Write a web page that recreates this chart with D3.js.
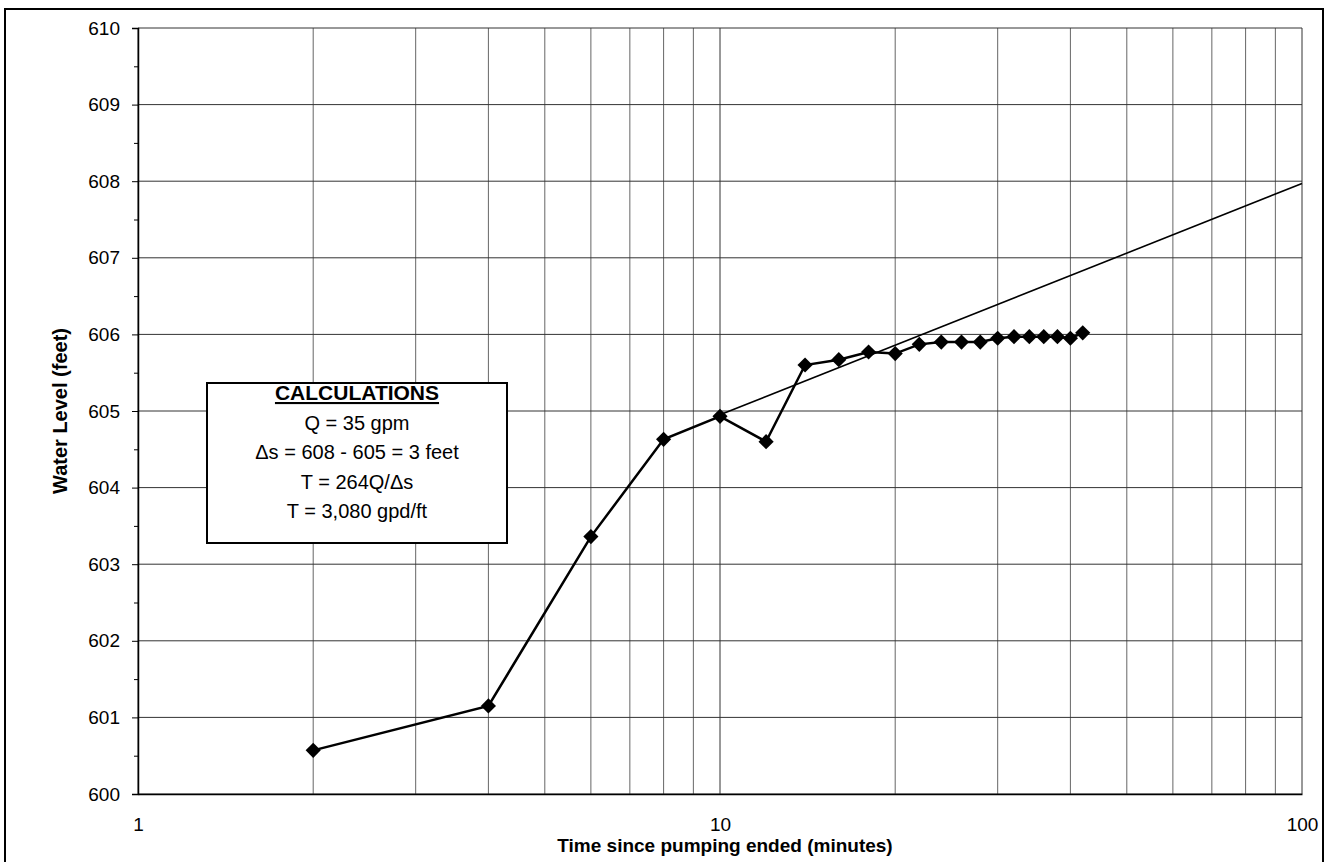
<!DOCTYPE html>
<html>
<head>
<meta charset="utf-8">
<script src="https://cdn.jsdelivr.net/npm/d3@7"></script>
<style>
   body { margin: 0; background: #fff; }
   text { font-family: Arial, "Liberation Sans", sans-serif; fill: #000; }
</style>
</head>
<body>
<script>
// recovery test data
let times = [2, 4, 6, 8, 10, 12, 14, 16, 18, 20, 22, 24, 26, 28, 30, 32, 34, 36, 38, 40, 42];
let levels = [600.57, 601.15, 603.36, 604.63, 604.93, 604.60, 605.60, 605.67, 605.77, 605.75, 605.87,
              605.90, 605.90, 605.90, 605.95, 605.97, 605.97, 605.97, 605.97, 605.95, 606.02];
// straight line fitted through the late data
let trendTimes = [10, 100];
let trendLevels = [604.95, 607.97];
// axes
let xTicks = [1, 10, 100];
let xGrid = [1, 2, 3, 4, 5, 6, 7, 8, 9, 10, 20, 30, 40, 50, 60, 70, 80, 90, 100];
let yTicks = [600, 601, 602, 603, 604, 605, 606, 607, 608, 609, 610];
let yMinorTicks = [600.5, 601.5, 602.5, 603.5, 604.5, 605.5, 606.5, 607.5, 608.5, 609.5];
let calcTitle = 'CALCULATIONS';
let calcLines = ['Q = 35 gpm', '\u0394s = 608 - 605  = 3 feet', 'T = 264Q/\u0394s', 'T = 3,080 gpd/ft'];

let width = 1331;
let height = 862;
let plotLeft = 138, plotRight = 1302, plotTop = 28, plotBottom = 794;

let svg = d3.select('body').append('svg')
   .attr('width', width)
   .attr('height', height);

let xScale = d3.scaleLog().domain([1, 100]).range([plotLeft, plotRight]);
let yScale = d3.scaleLinear().domain([600, 610]).range([plotBottom, plotTop]);

// outer chart border
svg.append('rect')
   .attr('x', 5).attr('y', 9)
   .attr('width', 1318).attr('height', 870)
   .attr('fill', 'none')
   .attr('stroke', '#000')
   .attr('stroke-width', 2);

// gridlines (scan looks a bit washed out, so greys)
svg.append('g').selectAll('line')
   .data(xGrid)
   .enter()
   .append('line')
   .attr('x1', (d) => xScale(d)).attr('x2', (d) => xScale(d))
   .attr('y1', plotTop).attr('y2', plotBottom)
   .attr('stroke', (d) => xTicks.includes(d) ? '#333' : '#666')
   .attr('stroke-width', 1);

svg.append('g').selectAll('line')
   .data(yTicks)
   .enter()
   .append('line')
   .attr('x1', plotLeft).attr('x2', plotRight)
   .attr('y1', (d) => yScale(d)).attr('y2', (d) => yScale(d))
   .attr('stroke', '#333')
   .attr('stroke-width', 1);

// axes
let yAxis = d3.axisLeft(yScale)
   .tickValues(yTicks)
   .tickFormat(d3.format('d'))
   .tickSize(6)
   .tickPadding(12);
let gy = svg.append('g')
   .attr('transform', 'translate(' + plotLeft + ',0)')
   .call(yAxis);
gy.selectAll('text').style('font-size', '19px');

let yMinor = d3.axisLeft(yScale).tickValues(yMinorTicks).tickSize(4).tickFormat('');
svg.append('g')
   .attr('transform', 'translate(' + plotLeft + ',0)')
   .call(yMinor)
   .select('.domain').remove();

let xAxis = d3.axisBottom(xScale)
   .tickValues(xTicks)
   .tickFormat(d3.format('d'))
   .tickSize(0)
   .tickPadding(24);
let gx = svg.append('g')
   .attr('transform', 'translate(0,' + plotBottom + ')')
   .call(xAxis);
gx.selectAll('text').style('font-size', '19px');

svg.selectAll('.domain').attr('stroke', '#000').attr('stroke-width', 1.5);

// axis captions
svg.append('text')
   .attr('transform', 'translate(60,' + yScale(605) + ') rotate(-90)')
   .attr('text-anchor', 'middle')
   .attr('dy', '0.35em')
   .style('font-size', '20px')
   .style('font-weight', 'bold')
   .text('Water Level (feet)');
svg.append('text')
   .attr('x', 725)
   .attr('y', 852)
   .attr('text-anchor', 'middle')
   .style('font-size', '19px')
   .style('font-weight', 'bold')
   .text('Time since pumping ended (minutes)');

// trend line
let line = d3.line().x((d) => xScale(d[0])).y((d) => yScale(d[1]));
svg.append('path')
   .datum(d3.zip(trendTimes, trendLevels))
   .attr('d', line)
   .attr('fill', 'none')
   .attr('stroke', '#000')
   .attr('stroke-width', 1.6);

// data line + diamonds
svg.append('path')
   .datum(d3.zip(times, levels))
   .attr('d', line)
   .attr('fill', 'none')
   .attr('stroke', '#000')
   .attr('stroke-width', 2.5);

svg.append('g').selectAll('path')
   .data(d3.zip(times, levels))
   .enter()
   .append('path')
   .attr('d', d3.symbol().type(d3.symbolSquare).size(115))
   .attr('transform', (d) => 'translate(' + xScale(d[0]) + ',' + yScale(d[1]) + ') rotate(45)')
   .attr('fill', '#000');

// calculations box
let box = svg.append('g');
box.append('rect')
   .attr('x', 207).attr('y', 383)
   .attr('width', 300).attr('height', 160)
   .attr('fill', '#fff')
   .attr('stroke', '#000')
   .attr('stroke-width', 2);
box.append('text')
   .attr('x', 357).attr('y', 400)
   .attr('text-anchor', 'middle')
   .style('font-size', '21px')
   .style('font-weight', 'bold')
   .style('text-decoration', 'underline')
   .text(calcTitle);
box.selectAll('.calc')
   .data(calcLines)
   .enter()
   .append('text')
   .attr('class', 'calc')
   .attr('x', 357)
   .attr('y', (d, i) => 430 + i * 29.3)
   .attr('text-anchor', 'middle')
   .style('font-size', '20px')
   .text((d) => d);
</script>
</body>
</html>
